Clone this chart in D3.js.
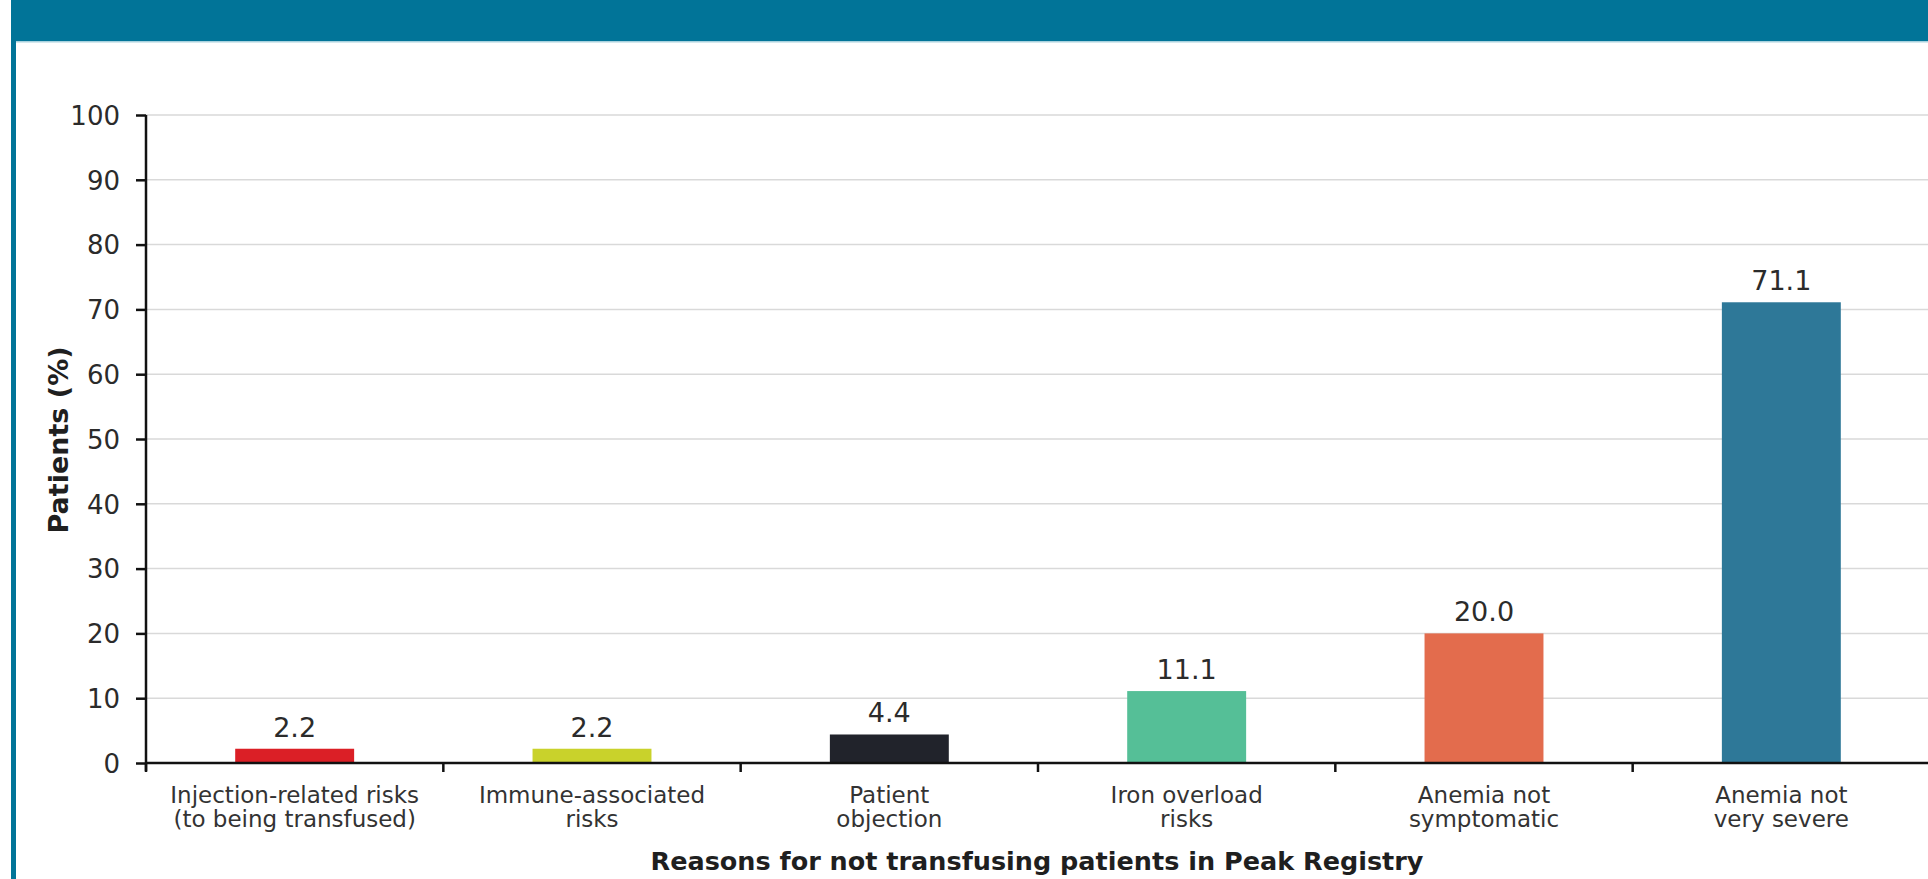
<!DOCTYPE html>
<html>
<head>
<meta charset="utf-8">
<script src="https://cdn.jsdelivr.net/npm/d3@7"></script>
<style>
	body { margin: 0; background: #fff; }
	svg { display: block; font-family: "DejaVu Sans", sans-serif; }
</style>
</head>
<body>
<script>
// chart data
let categories = [
	["Injection-related risks", "(to being transfused)"],
	["Immune-associated", "risks"],
	["Patient", "objection"],
	["Iron overload", "risks"],
	["Anemia not", "symptomatic"],
	["Anemia not", "very severe"]
];
let values = [2.2, 2.2, 4.4, 11.1, 20.0, 71.1];
let valueLabels = ["2.2", "2.2", "4.4", "11.1", "20.0", "71.1"];
let barColors = ["#db1f26", "#c9d22b", "#21232b", "#55bf97", "#e36c4d", "#2e7898"];
let yTicks = [0, 10, 20, 30, 40, 50, 60, 70, 80, 90, 100];
let xTitle = "Reasons for not transfusing patients in Peak Registry";
let yTitle = "Patients (%)";

let w = 1928;
let h = 879;
let plotL = 146, plotR = 1930, plotT = 115, plotB = 763; // plot edges

let svg = d3.select('body')
	.append('svg')
	.attr('width', w)
	.attr('height', h);

// page frame: teal header band + left rule
svg.append('rect')
	.attr('x', 11).attr('y', 0)
	.attr('width', w - 11).attr('height', 41)
	.attr('fill', '#017498');
svg.append('rect')
	.attr('x', 11).attr('y', 41)
	.attr('width', w - 11).attr('height', 1.5)
	.attr('fill', '#a9d2de');
svg.append('rect')
	.attr('x', 11).attr('y', 0)
	.attr('width', 5).attr('height', h)
	.attr('fill', '#017498');

let idx = d3.range(categories.length);

let xScale = d3.scaleBand()
	.domain(idx)
	.range([plotL, plotR])
	.paddingInner(0.6)
	.paddingOuter(0.3);

let yScale = d3.scaleLinear()
	.domain([0, 100])
	.range([plotB, plotT]);

// gridlines
svg.append('g')
	.selectAll('line')
	.data(yTicks.filter(t => t > 0))
	.enter()
	.append('line')
	.attr('x1', plotL)
	.attr('x2', w)
	.attr('y1', d => yScale(d))
	.attr('y2', d => yScale(d))
	.attr('stroke', '#d9d9d9')
	.attr('stroke-width', 1.5);

// bars
svg.selectAll('.bar')
	.data(values)
	.enter()
	.append('rect')
	.attr('class', 'bar')
	.attr('x', (d, i) => xScale(i))
	.attr('y', d => yScale(d))
	.attr('width', xScale.bandwidth())
	.attr('height', d => yScale(0) - yScale(d))
	.attr('fill', (d, i) => barColors[i]);

// value labels
svg.selectAll('.val')
	.data(values)
	.enter()
	.append('text')
	.attr('class', 'val')
	.attr('x', (d, i) => xScale(i) + xScale.bandwidth() / 2)
	.attr('y', d => yScale(d) - 12)
	.attr('text-anchor', 'middle')
	.attr('font-size', 27)
	.attr('fill', '#2b2b2b')
	.text((d, i) => valueLabels[i]);

// y axis
let yAxis = d3.axisLeft(yScale)
	.tickValues(yTicks)
	.tickSize(10)
	.tickPadding(16);

let gy = svg.append('g')
	.attr('transform', 'translate(' + plotL + ',0)')
	.call(yAxis);

gy.select('.domain')
	.attr('d', 'M0,' + plotT + 'V' + (plotB + 8))
	.attr('stroke', '#111')
	.attr('stroke-width', 2.5);
gy.selectAll('.tick line').attr('stroke', '#111').attr('stroke-width', 2.5);
gy.selectAll('.tick text')
	.attr('font-family', '"DejaVu Sans", sans-serif')
	.attr('font-size', 26)
	.attr('fill', '#2b2b2b')
	.attr('dy', '0.36em');

// x axis line with ticks at band edges
let step = xScale.step();
let edges = d3.range(categories.length + 1).map(i => plotL + i * step);

svg.append('line')
	.attr('x1', plotL)
	.attr('x2', w)
	.attr('y1', plotB)
	.attr('y2', plotB)
	.attr('stroke', '#111')
	.attr('stroke-width', 2.5);

svg.append('g')
	.selectAll('line')
	.data(edges)
	.enter()
	.append('line')
	.attr('x1', d => d)
	.attr('x2', d => d)
	.attr('y1', plotB)
	.attr('y2', plotB + 9)
	.attr('stroke', '#111')
	.attr('stroke-width', 2.5);

// category labels (two lines each)
let cat = svg.append('g')
	.selectAll('text')
	.data(categories)
	.enter()
	.append('text')
	.attr('text-anchor', 'middle')
	.attr('font-size', 23)
	.attr('fill', '#333');

cat.selectAll('tspan')
	.data((d, i) => d.map(line => ({ line: line, i: i })))
	.enter()
	.append('tspan')
	.attr('x', d => xScale(d.i) + xScale.bandwidth() / 2)
	.attr('y', (d, j) => plotB + 40 + j * 24)
	.text(d => d.line);

// axis titles
svg.append('text')
	.attr('x', (plotL + w) / 2)
	.attr('y', 870)
	.attr('text-anchor', 'middle')
	.attr('font-size', 25.5)
	.attr('font-weight', 'bold')
	.attr('fill', '#1f1f1f')
	.text(xTitle);

svg.append('text')
	.attr('transform', 'translate(68,440) rotate(-90)')
	.attr('text-anchor', 'middle')
	.attr('font-size', 27)
	.attr('font-weight', 'bold')
	.attr('fill', '#1f1f1f')
	.text(yTitle);
</script>
</body>
</html>
